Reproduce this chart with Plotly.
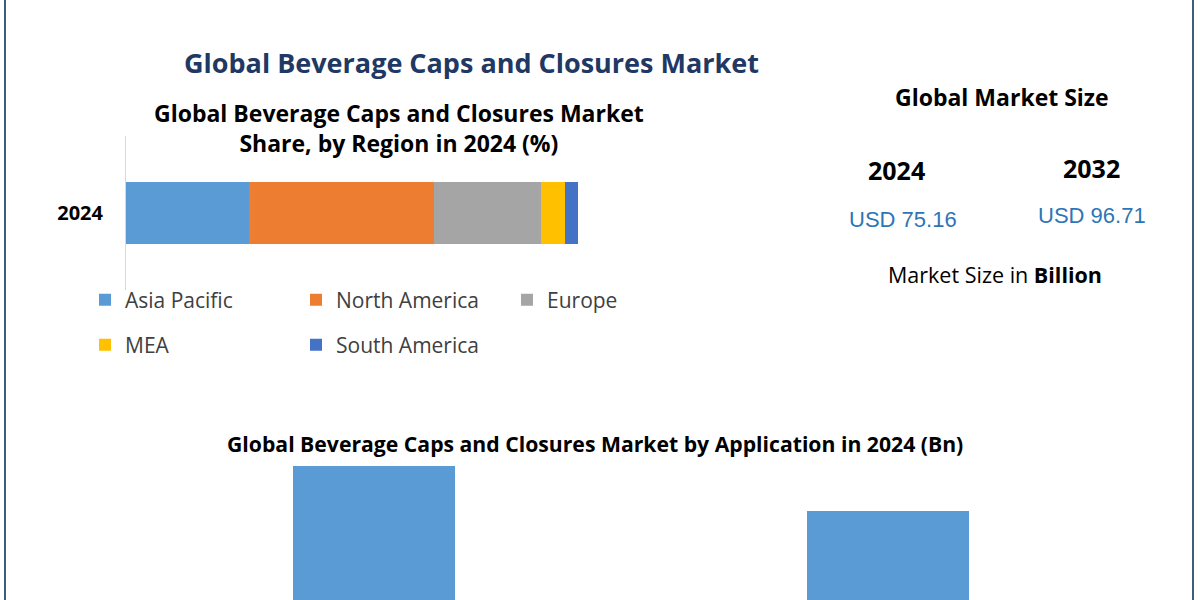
import plotly.graph_objects as go

# ---- data ----
share_year = ["2024"]
regions = ["Asia Pacific", "North America", "Europe", "MEA", "South America"]
region_share = [27.2, 41.0, 23.6, 5.3, 2.9]
region_colors = ["#5B9BD5", "#ED7D31", "#A5A5A5", "#FFC000", "#4472C4"]

applications = ["Bottled Water", "Carbonated Soft Drinks"]
app_values = [42.0, 33.16]

market_years = ["2024", "2032"]
market_values = ["USD 75.16", "USD 96.71"]

FONT = "Open Sans"
W, H = 1200, 600


def px(x):
    return x / W


def py(y):
    return 1 - y / H


fig = go.Figure()

# stacked horizontal bar (region share)
for i, (name, val, col) in enumerate(zip(regions, region_share, region_colors)):
    fig.add_trace(go.Bar(
        y=share_year, x=[val], name=name, orientation="h",
        marker=dict(color=col, line=dict(width=0)),
        width=0.40, xaxis="x", yaxis="y",
        legend="legend" if i < 3 else "legend2",
        hoverinfo="x+name",
    ))

# application bar chart
fig.add_trace(go.Bar(
    x=applications, y=app_values, marker=dict(color="#5B9BD5", line=dict(width=0)),
    width=0.315, xaxis="x2", yaxis="y2", showlegend=False,
))

legend_common = dict(orientation="h", xanchor="left", yanchor="middle",
                     entrywidth=166, entrywidthmode="pixels", traceorder="normal",
                     font=dict(family=FONT, size=21, color="#404040"),
                     bgcolor="rgba(0,0,0,0)")

fig.update_layout(
    width=W, height=H,
    margin=dict(l=0, r=0, t=0, b=0),
    paper_bgcolor="white", plot_bgcolor="white",
    barmode="stack",
    font=dict(family=FONT, color="#000000"),
    xaxis=dict(domain=[px(126), px(578)], range=[0, 100], showgrid=False,
               zeroline=False, showticklabels=False, showline=False, fixedrange=True),
    yaxis=dict(domain=[py(290), py(136)], range=[-0.5, 0.5], showgrid=False,
               zeroline=False, showline=True, linecolor="#D9D9D9", linewidth=1,
               ticks="", ticklabelstandoff=18,
               tickfont=dict(family=FONT, size=20, color="#000000", weight="bold")),
    xaxis2=dict(domain=[px(117), px(1145)], range=[-0.5, 1.5], showgrid=False,
                zeroline=False, showticklabels=False, showline=False),
    yaxis2=dict(domain=[0, py(458)], range=[15.67, 43.57], showgrid=False,
                zeroline=False, showticklabels=False, showline=False),
    legend=dict(x=px(85), y=py(300), **legend_common),
    legend2=dict(x=px(85), y=py(345), **legend_common),
    showlegend=True,
)

# frame lines (left and right border)
for bx in (5, 1193):
    fig.add_shape(type="line", xref="paper", yref="paper", x0=px(bx), x1=px(bx), y0=0, y1=1,
                  line=dict(color="#3E5C7A", width=2))

ann = []
ann.append(dict(text="<b>Global Beverage Caps and Closures Market</b>", x=px(471), y=py(63),
                font=dict(family=FONT, size=27, color="#1F3864")))
ann.append(dict(text="<b>Global Beverage Caps and Closures Market<br>Share, by Region in 2024 (%)</b>",
                x=px(399), y=py(128), font=dict(family=FONT, size=23, color="#000000")))
ann.append(dict(text="<b>Global Market Size</b>", x=px(1002), y=py(97),
                font=dict(family=FONT, size=23, color="#000000")))
for yr, val, cx, cy_yr, cx_val, cy_val in zip(market_years, market_values,
                                              [896, 1091], [170, 168], [903, 1092], [219, 215]):
    ann.append(dict(text=f"<b>{yr}</b>", x=px(cx), y=py(cy_yr),
                    font=dict(family=FONT, size=25, color="#000000")))
    ann.append(dict(text=val, x=px(cx_val), y=py(cy_val),
                    font=dict(family="Liberation Sans", size=22, color="#2E75B6")))
ann.append(dict(text="Market Size in <b>Billion</b>", x=px(995), y=py(275),
                font=dict(family=FONT, size=21.5, color="#000000")))
ann.append(dict(text="<b>Global Beverage Caps and Closures Market by Application in 2024 (Bn)</b>",
                x=px(595), y=py(443), font=dict(family=FONT, size=21.2, color="#000000")))
for a in ann:
    a.update(xref="paper", yref="paper", xanchor="center", yanchor="middle", showarrow=False)
fig.update_layout(annotations=ann)

fig.write_html("out.html", config={"displayModeBar": False},
               post_script="document.body.style.margin='0px';document.body.style.overflow='hidden';")
